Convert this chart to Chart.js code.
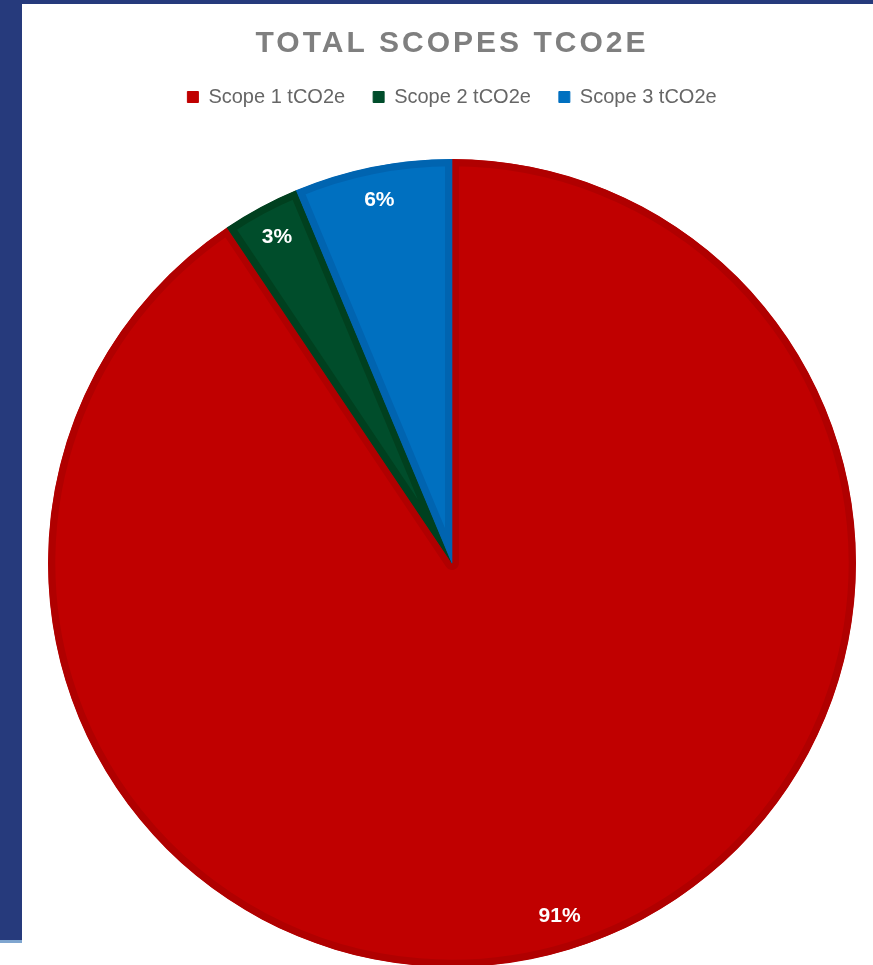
<!DOCTYPE html>
<html>
<head>
<meta charset="utf-8">
<script src="https://cdn.jsdelivr.net/npm/chart.js@4/dist/chart.umd.min.js"></script>
<style>
    html, body { margin: 0; padding: 0; background: #fff; overflow: hidden; }
    #franjaSup { position: absolute; left: 0; top: 0; width: 873px; height: 4px; background: #263a7c; }
    #franjaIzq { position: absolute; left: 0; top: 0; width: 22px; height: 940px; background: #263a7c; }
    #lineaIzq { position: absolute; left: 0; top: 940px; width: 22px; height: 3px; background: #7fa5cf; }
    #contenedor { position: absolute; left: 48px; top: 4px; width: 808px; height: 1005px; }
</style>
</head>
<body>
<div id="franjaSup"></div>
<div id="franjaIzq"></div>
<div id="lineaIzq"></div>
<div id="contenedor"><canvas id="grafico" width="808" height="1005"></canvas></div>
<script>
const categorias = ['Scope 1 tCO2e', 'Scope 2 tCO2e', 'Scope 3 tCO2e'];
const valores = [90.6, 3.1, 6.3];
const colores = ['#c00000', '#004d2b', '#0070c0'];
const bordes = ['#b00000', '#00401f', '#0064b0'];
const titulo = 'TOTAL SCOPES TCO2E';

const fuente = '"Liberation Sans", Arial, sans-serif';

// etiquetas de porcentaje dentro de cada porcion
const etiquetasPlugin = {
    id: 'etiquetas',
    afterDatasetsDraw(chart) {
        const ctx = chart.ctx;
        const meta = chart.getDatasetMeta(0);
        const total = valores.reduce((a, b) => a + b, 0);
        ctx.save();
        ctx.fillStyle = '#ffffff';
        ctx.font = 'bold 21px ' + fuente;
        ctx.textAlign = 'center';
        ctx.textBaseline = 'middle';
        meta.data.forEach((arco, i) => {
            const p = arco.getProps(['x', 'y', 'startAngle', 'endAngle', 'outerRadius'], true);
            const a = (p.startAngle + p.endAngle) / 2;
            const r = p.outerRadius * 0.915;
            ctx.fillText(Math.round(valores[i] / total * 100) + '%', p.x + Math.cos(a) * r, p.y + Math.sin(a) * r);
        });
        ctx.restore();
    }
};

// el titulo lleva espaciado entre letras
const espaciadoTitulo = {
    id: 'espaciadoTitulo',
    beforeDraw(chart) {
        const bloque = chart.titleBlock;
        if (!bloque || bloque._espaciado) return;
        const dibujar = bloque.draw.bind(bloque);
        bloque.draw = function () {
            chart.ctx.save();
            chart.ctx.letterSpacing = '3px';
            dibujar();
            chart.ctx.restore();
        };
        bloque._espaciado = true;
    }
};

new Chart(document.getElementById('grafico'), {
    type: 'pie',
    data: {
        labels: categorias,
        datasets: [{
            data: valores,
            backgroundColor: colores,
            borderColor: bordes,
            borderWidth: 7,
            borderAlign: 'inner'
        }]
    },
    options: {
        responsive: false,
        animation: false,
        layout: { padding: 0 },
        plugins: {
            title: {
                display: true,
                text: titulo,
                color: '#7f7f7f',
                font: { family: fuente, size: 30, weight: 'bold', lineHeight: 1 },
                padding: { top: 25, bottom: 0 }
            },
            legend: {
                position: 'top',
                labels: {
                    color: '#666666',
                    font: { family: fuente, size: 20 },
                    boxWidth: 11,
                    boxHeight: 11,
                    padding: 28,
                    generateLabels(chart) {
                        return categorias.map((c, i) => ({
                            text: c,
                            fillStyle: colores[i],
                            strokeStyle: colores[i],
                            lineWidth: 1,
                            fontColor: '#666666',
                            index: i,
                            hidden: false
                        }));
                    }
                }
            },
            tooltip: { enabled: false }
        }
    },
    plugins: [etiquetasPlugin, espaciadoTitulo]
});
</script>
</body>
</html>
